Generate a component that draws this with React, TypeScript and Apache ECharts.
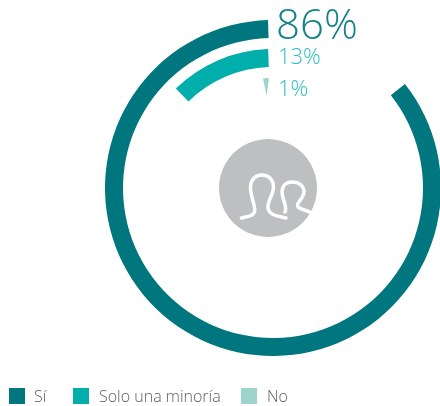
import React, { useEffect, useRef } from "react";
import * as echarts from "echarts";

const categories = ["Sí", "Solo una minoría", "No"];
const values = [86, 13, 1];
const remainders = [15, 97.5, 18];
const colors = ["#00767f", "#00aeab", "#9fd4ce"];
const labelColors = ["#14818a", "#2fbfc0", "#2fbfc0"];
const peopleIcon =
  "M241.5 218 C248 216 253 216.5 254.5 212 C256 206 250.5 197 250.5 188 C250.5 180 255 175 262 175 C269 175 273.5 180 273.5 187 C273.5 195 267 201 268 208 C269 215 277 216 286 218 M285 212 C288 206 282 200 282 192 C282 186 286 182 292.5 182 C299 182 304 186 304 192 C304 198 295 204 298 207 C300 209 305 210 310 212";

echarts.graphic.registerShape("peopleIconPath", (echarts.graphic as any).extendPath(peopleIcon, {}));

const FONT = '"Open Sans", sans-serif';
const legendLeft = [9, 73, 241];
const legendTextPad = [4, 5, 5];

function ring(i: number, center: number[], radius: number[], startAngle: number) {
  return {
    type: "pie",
    name: categories[i],
    center,
    radius,
    startAngle,
    clockwise: false,
    silent: true,
    label: { show: false },
    labelLine: { show: false },
    itemStyle: { borderWidth: 0 },
    emphasis: { disabled: true },
    data: [
      { name: categories[i], value: values[i], itemStyle: { color: colors[i] } },
      { name: "resto" + i, value: remainders[i], itemStyle: { color: "rgba(0,0,0,0)" } },
    ],
  };
}

export default function App() {
  const ref = useRef<HTMLDivElement>(null);
  useEffect(() => {
    const chart = echarts.init(ref.current!, undefined, { renderer: "svg" });
    chart.setOption({
      animation: false,
      legend: categories.map((name, i) => ({
        left: legendLeft[i],
        top: 388,
        padding: 0,
        itemWidth: 16,
        itemHeight: 16,
        icon: "rect",
        selectedMode: false,
        data: [{ name, itemStyle: { color: colors[i] } }],
        textStyle: { fontFamily: FONT, fontSize: 16, fontWeight: 300, color: "#5c5d5f", padding: [0, 0, 0, legendTextPad[i]] },
      })),
      series: [
        ring(0, [273, 188], [150, 168], 91.7),
        ring(1, [273, 188], [121, 139], 92),
        ring(2, [266.7, 96], [0, 18], 83),
      ],
      graphic: [
        { type: "circle", shape: { cx: 268, cy: 188, r: 49 }, style: { fill: "#bdbfc1" }, silent: true },
        {
          type: "peopleIconPath",
          x: 0,
          y: 0,
          silent: true,
          style: { fill: "none", stroke: "#ffffff", lineWidth: 3.5, lineCap: "round", lineJoin: "round" },
        },
        { type: "text", x: 276, y: 22, silent: true, style: { text: values[0] + "%", font: `300 42px ${FONT}`, lineHeight: 36, fill: labelColors[0], textVerticalAlign: "middle" } },
        { type: "text", x: 278, y: 55, silent: true, style: { text: values[1] + "%", font: `300 22px ${FONT}`, lineHeight: 22, fill: labelColors[1], textVerticalAlign: "middle" } },
        { type: "text", x: 278, y: 87, silent: true, style: { text: values[2] + "%", font: `300 22px ${FONT}`, lineHeight: 22, fill: labelColors[2], textVerticalAlign: "middle" } },
      ],
    });
    return () => chart.dispose();
  }, []);
  return <div ref={ref} style={{ position: "fixed", left: 0, top: 0, width: 440, height: 406 }} />;
}
